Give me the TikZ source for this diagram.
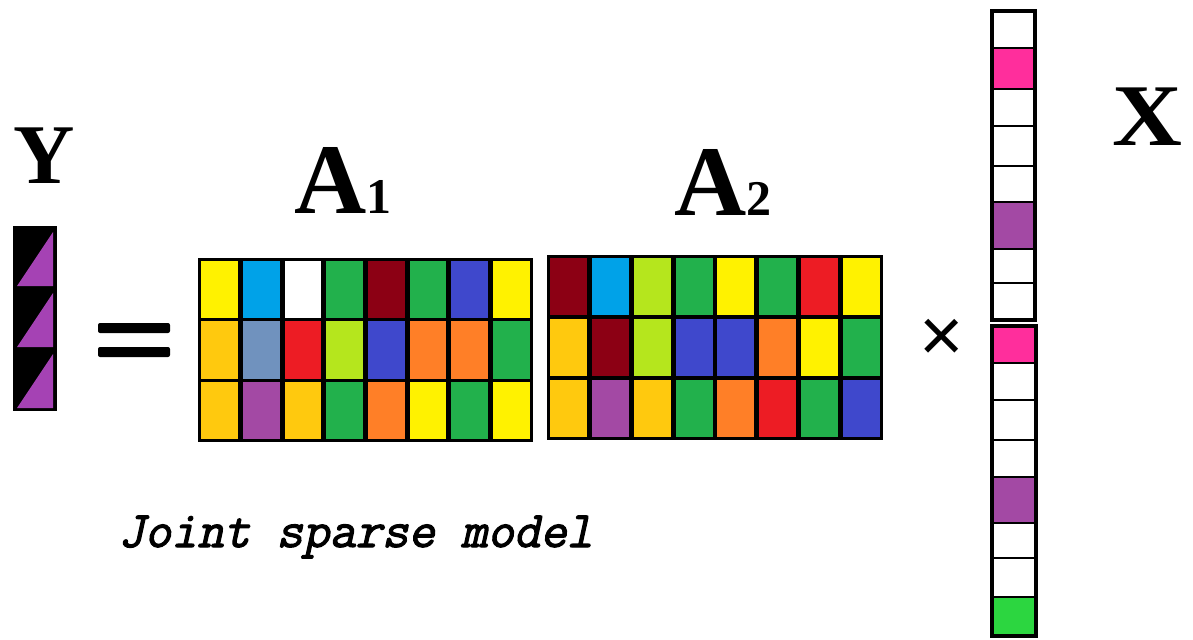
\documentclass[tikz,border=0pt]{standalone}
\usepackage{fontspec}
\setmainfont{Liberation Serif}
\newfontfamily\symfont{Liberation Sans}
\newfontfamily\capfont[FakeSlant=0.22, FakeBold=2.2]{Latin Modern Mono}

% palette
\definecolor{cyel}{HTML}{FFF200}
\definecolor{csky}{HTML}{00A2E8}
\definecolor{cgrn}{HTML}{22B14C}
\definecolor{cdrd}{HTML}{8C0014}
\definecolor{cblu}{HTML}{3F48CC}
\definecolor{cgld}{HTML}{FFC90E}
\definecolor{cstl}{HTML}{7092BE}
\definecolor{cred}{HTML}{ED1C24}
\definecolor{clim}{HTML}{B5E61D}
\definecolor{corn}{HTML}{FF7F27}
\definecolor{cpur}{HTML}{A349A4}
\definecolor{cpnk}{HTML}{FF2E9C}
\definecolor{cbgr}{HTML}{2CD640}
\definecolor{ctri}{HTML}{A542B4}

% one row of coloured cells: x0, y0, cell width, cell height, colours
\newcommand\cellrow[5]{%
  \foreach \c [count=\i from 0] in {#5}
    \fill[\c] ({#1+\i*#3+2.4},{#2+1.6}) rectangle ({#1+(\i+1)*#3-2.4},{#2+#4-1.6});}

\tikzset{
  biglabel/.style={inner sep=0pt, anchor=base west, text=black, font=\bfseries},
  veccell/.style={draw=black, line width=1pt},
  vecframe/.style={draw=black, line width=1.6pt},
}

\begin{document}
\begin{tikzpicture}[x=0.5pt,y=-0.5pt]
\useasboundingbox (0,0) rectangle (1193,639);

% ---- Y ----
\node[biglabel] (ylab) at (13,183) {\fontsize{42.5}{42.5}\selectfont Y};
\foreach \t/\b in {227/288, 288/349, 349/410} {
  \fill[black] (14,\t) rectangle (56,\b);
  \fill[ctri] (17,\b-2) -- (53,\b-2) -- (53,\t+5) -- cycle;
}
\draw[line width=1pt] (14,227) rectangle (56,410);

% ---- equals sign ----
\fill[black, rounded corners=1pt] (98,323) rectangle (170,333);
\fill[black, rounded corners=1pt] (98,347) rectangle (170,357);

% ---- A1 ----
\node[biglabel] (a1lab) at (294,213) {\fontsize{50}{50}\selectfont A\fontsize{25}{25}\selectfont 1};
\fill[black] (198,258) rectangle (533,442);
\cellrow{199}{259}{41.625}{60.667}{cyel,csky,white,cgrn,cdrd,cgrn,cblu,cyel}
\cellrow{199}{319.667}{41.625}{60.667}{cgld,cstl,cred,clim,cblu,corn,corn,cgrn}
\cellrow{199}{380.333}{41.625}{60.667}{cgld,cpur,cgld,cgrn,corn,cyel,cgrn,cyel}

% ---- A2 ----
\node[biglabel] (a2lab) at (674,215) {\fontsize{50}{50}\selectfont A\fontsize{25}{25}\selectfont 2};
\fill[black] (547,255) rectangle (883,440);
\cellrow{548}{256}{41.75}{61}{cdrd,csky,clim,cgrn,cyel,cgrn,cred,cyel}
\cellrow{548}{317}{41.75}{61}{cgld,cdrd,clim,cblu,cblu,corn,cyel,cgrn}
\cellrow{548}{378}{41.75}{61}{cgld,cpur,cgld,cgrn,corn,cred,cgrn,cblu}

% ---- times sign ----
\node[inner sep=0pt] (times) at (942,340) {\symfont\fontsize{38}{38}\selectfont ×};

% ---- X vectors ----
\foreach \t/\b/\c in {11/48/white, 48/89/cpnk, 89/126/white, 126/166/white,
                      166/202/white, 202/249/cpur, 249/283/white, 283/320/white}
  \filldraw[veccell, fill=\c] (992,\t) rectangle (1035,\b);
\draw[vecframe] (992,11) rectangle (1035,320);

\foreach \t/\b/\c in {326/363/cpnk, 363/400/white, 400/440/white, 440/477/white,
                      477/523/cpur, 523/558/white, 558/597/white, 597/636/cbgr}
  \filldraw[veccell, fill=\c] (992,\t) rectangle (1036,\b);
\draw[vecframe] (992,326) rectangle (1036,636);

\node[biglabel] (xlab) at (1112,145) {\scalebox{1.1}[1]{\fontsize{44}{44}\selectfont X}};

% ---- caption ----
\node[inner sep=0pt, anchor=base west] (cap) at (118,547)
  {\capfont\fontsize{25.6}{25.6}\selectfont Joint sparse model};
\end{tikzpicture}
\end{document}
